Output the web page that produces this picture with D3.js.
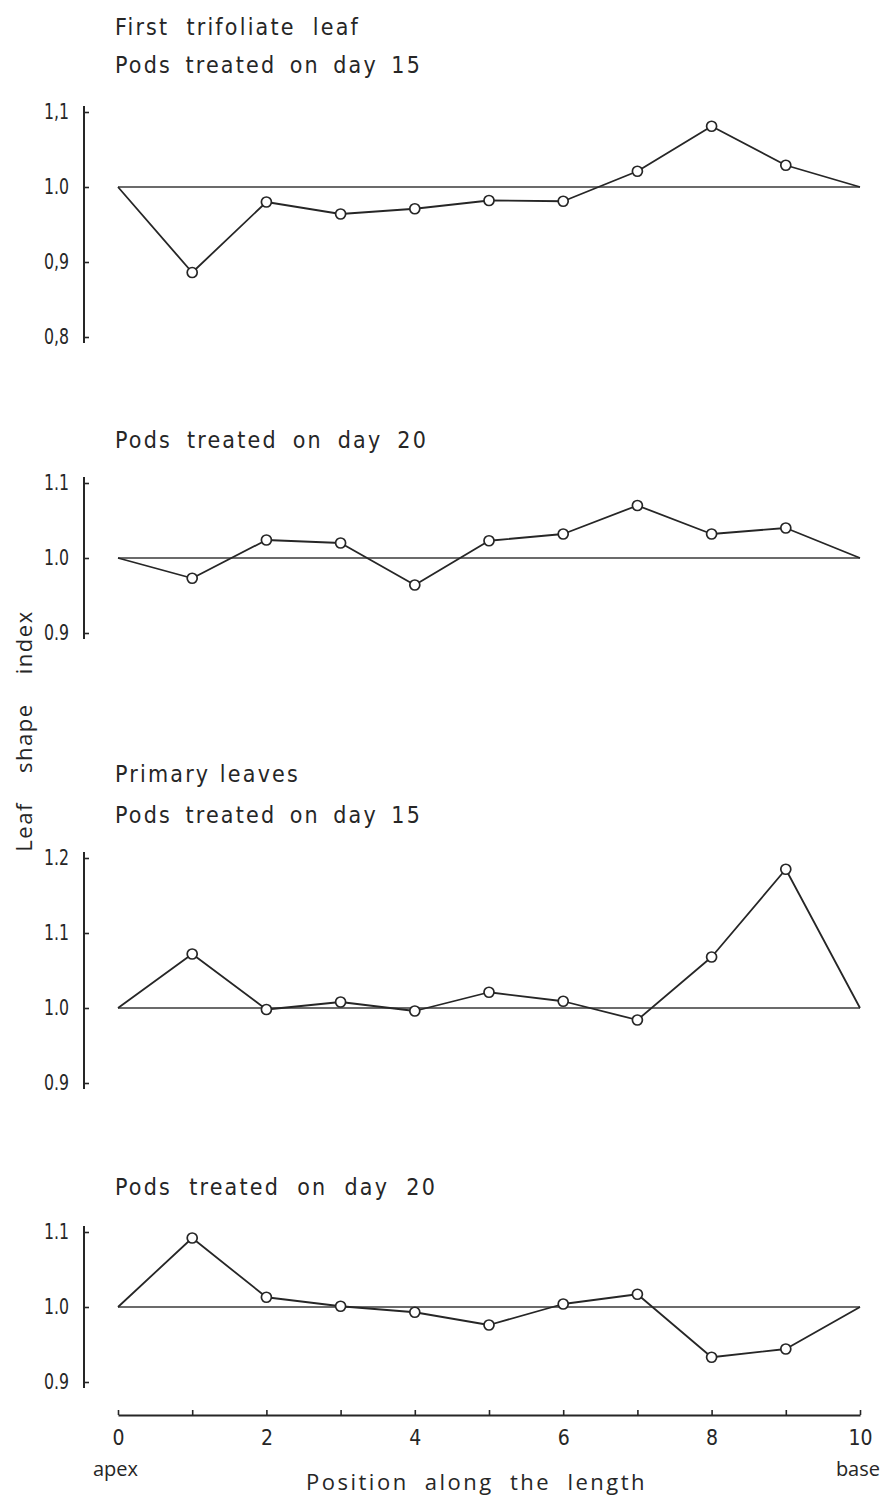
<!DOCTYPE html>
<html>
<head>
<meta charset="utf-8">
<script src="https://cdn.jsdelivr.net/npm/d3@7"></script>
<style>
  body { margin: 0; background: #ffffff; }
  svg { display: block; }
</style>
</head>
<body>
<svg id="chart" width="884" height="1498"></svg>
<script>
// Position along the leaf (0 = apex, 10 = base); both ends sit at an index of 1.0
const positions = [0, 1, 2, 3, 4, 5, 6, 7, 8, 9, 10];
const endValue = 1.0;

// Leaf shape index at positions 1..9
const trifoliateDay15 = [0.886, 0.980, 0.964, 0.971, 0.982, 0.981, 1.021, 1.081, 1.029];
const trifoliateDay20 = [0.973, 1.024, 1.020, 0.964, 1.023, 1.032, 1.070, 1.032, 1.040];
const primaryDay15    = [1.072, 0.998, 1.008, 0.996, 1.021, 1.009, 0.984, 1.068, 1.185];
const primaryDay20    = [1.092, 1.013, 1.001, 0.993, 0.976, 1.004, 1.017, 0.933, 0.944];

// Y tick values and their printed labels, one pair per panel
const trifoliateDay15Ticks  = [0.8, 0.9, 1.0, 1.1];
const trifoliateDay15Labels = ["0,8", "0,9", "1.0", "1,1"];
const trifoliateDay20Ticks  = [0.9, 1.0, 1.1];
const trifoliateDay20Labels = ["0.9", "1.0", "1.1"];
const primaryDay15Ticks     = [0.9, 1.0, 1.1, 1.2];
const primaryDay15Labels    = ["0.9", "1.0", "1.1", "1.2"];
const primaryDay20Ticks     = [0.9, 1.0, 1.1];
const primaryDay20Labels    = ["0.9", "1.0", "1.1"];

// X axis ticks (every position) and the labelled ones
const xTicks = [0, 1, 2, 3, 4, 5, 6, 7, 8, 9, 10];
const xTickLabels = { 0: "0", 2: "2", 4: "4", 6: "6", 8: "8", 10: "10" };

const ink = "#262626";
const plotterFont = "'DejaVu Sans Condensed', 'DejaVu Sans', sans-serif";
const bookFont = "'Open Sans', 'Noto Sans', sans-serif";

const svg = d3.select("#chart");
const x = d3.scaleLinear().domain([0, 10]).range([118, 860]);
const axisX = 84;

// Each panel: header lines, values, ticks and its vertical placement
const panels = [
  { titles: [["First trifoliate leaf", 35, 245], ["Pods treated on day 15", 73, 307]],
    values: trifoliateDay15, ticks: trifoliateDay15Ticks, labels: trifoliateDay15Labels,
    top: 112, bottom: 337 },
  { titles: [["Pods treated on day 20", 448, 313]],
    values: trifoliateDay20, ticks: trifoliateDay20Ticks, labels: trifoliateDay20Labels,
    top: 483, bottom: 633 },
  { titles: [["Primary leaves", 782, 185], ["Pods treated on day 15", 823, 307]],
    values: primaryDay15, ticks: primaryDay15Ticks, labels: primaryDay15Labels,
    top: 858, bottom: 1083 },
  { titles: [["Pods treated on day 20", 1195, 322]],
    values: primaryDay20, ticks: primaryDay20Ticks, labels: primaryDay20Labels,
    top: 1232, bottom: 1382 }
];

panels.forEach(p => {
  const g = svg.append("g");
  const y = d3.scaleLinear()
    .domain([p.ticks[0], p.ticks[p.ticks.length - 1]])
    .range([p.bottom, p.top]);

  // headings: narrow letters, spaced out, wider gaps between words
  p.titles.forEach(([txt, base, w]) => {
    const t = g.append("text")
      .attr("x", 115).attr("y", base)
      .attr("font-family", plotterFont)
      .attr("font-size", 23)
      .attr("fill", ink)
      .attr("letter-spacing", 2.2)
      .text(txt);
    const words = txt.split(" ").length - 1;
    const natural = t.node().getComputedTextLength();
    const gap = Math.max(0, (w - natural) / words);
    t.attr("word-spacing", gap);
  });

  // y axis: short ticks pointing inward, labels on the left
  const yAxis = d3.axisLeft(y)
    .tickValues(p.ticks)
    .tickFormat((d, i) => p.labels[i])
    .tickSizeInner(-5)
    .tickSizeOuter(0)
    .tickPadding(15);
  const ya = g.append("g").attr("transform", `translate(${axisX},0)`).call(yAxis);
  ya.select(".domain").remove();
  ya.selectAll(".tick line").attr("stroke", ink).attr("stroke-width", 1.6);
  ya.selectAll(".tick text")
    .attr("font-family", plotterFont)
    .attr("font-size", 21)
    .attr("fill", ink)
    .attr("textLength", 25)
    .attr("lengthAdjust", "spacingAndGlyphs");
  g.append("line")
    .attr("x1", axisX).attr("x2", axisX)
    .attr("y1", y.range()[1] - 6).attr("y2", y.range()[0] + 6)
    .attr("stroke", ink).attr("stroke-width", 2);

  // reference level at 1.0
  g.append("line")
    .attr("x1", x(0)).attr("x2", x(10))
    .attr("y1", y(1.0)).attr("y2", y(1.0))
    .attr("stroke", "#3a3a3a").attr("stroke-width", 1.4);

  // profile from apex to base
  const pts = positions.map((pos, i) => [pos,
    i === 0 || i === positions.length - 1 ? endValue : p.values[i - 1]]);
  g.append("path")
    .datum(pts)
    .attr("fill", "none")
    .attr("stroke", ink)
    .attr("stroke-width", 1.8)
    .attr("stroke-linejoin", "round")
    .attr("d", d3.line().x(d => x(d[0])).y(d => y(d[1])));

  g.selectAll("circle")
    .data(pts.slice(1, -1))
    .join("circle")
    .attr("cx", d => x(d[0]))
    .attr("cy", d => y(d[1]))
    .attr("r", 5)
    .attr("fill", "#ffffff")
    .attr("stroke", ink)
    .attr("stroke-width", 1.7);
});

// shared x axis
const xAxisY = 1415;
const xAxis = d3.axisBottom(x)
  .tickValues(xTicks)
  .tickFormat(d => xTickLabels[d] || "")
  .tickSizeInner(-5)
  .tickSizeOuter(0)
  .tickPadding(15);
const xa = svg.append("g").attr("transform", `translate(0,${xAxisY})`).call(xAxis);
xa.select(".domain").attr("stroke", ink).attr("stroke-width", 2.2);
xa.selectAll(".tick line").attr("stroke", ink).attr("stroke-width", 1.6);
xa.selectAll(".tick text")
  .attr("font-family", plotterFont)
  .attr("font-size", 21)
  .attr("fill", ink);

svg.append("text")
  .attr("x", 93).attr("y", 1476)
  .attr("font-family", bookFont).attr("font-size", 20).attr("fill", ink)
  .text("apex");
svg.append("text")
  .attr("x", 880).attr("y", 1476)
  .attr("text-anchor", "end")
  .attr("font-family", bookFont).attr("font-size", 20).attr("fill", ink)
  .text("base");
svg.append("text")
  .attr("x", 306).attr("y", 1490)
  .attr("font-family", bookFont).attr("font-size", 22).attr("fill", ink)
  .attr("letter-spacing", 2.5).attr("word-spacing", 8)
  .text("Position along the length");

// shared y axis title
svg.append("text")
  .attr("transform", "translate(32,731) rotate(-90)")
  .attr("text-anchor", "middle")
  .attr("font-family", bookFont).attr("font-size", 22).attr("fill", ink)
  .attr("letter-spacing", 1.5).attr("word-spacing", 22)
  .text("Leaf shape index");
</script>
</body>
</html>
